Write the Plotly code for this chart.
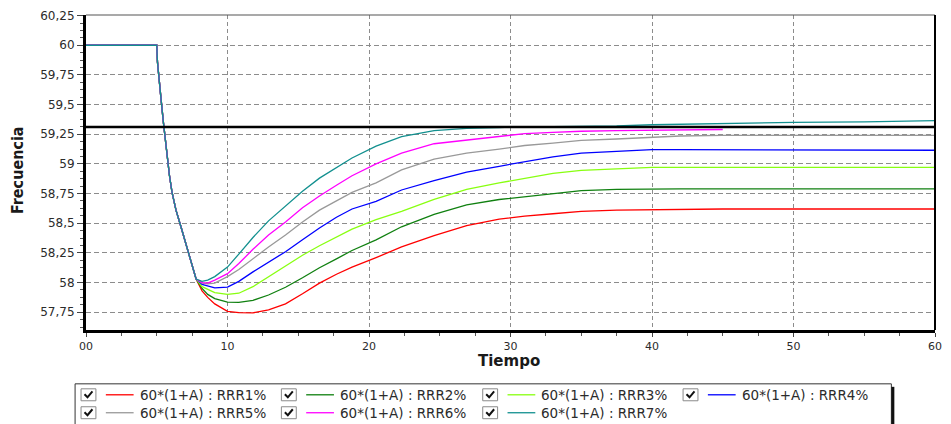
import plotly.graph_objects as go

# Time axis of the simulation (s)
time_s = [0, 5.0, 5.05, 5.15, 5.3, 5.47, 5.58, 5.7, 5.82, 5.9, 6.08, 6.36, 6.71,
          7.06, 7.41, 7.64, 7.78,
          8.2, 8.6, 9.1, 10, 10.8, 11.8, 12.9, 14.1, 15.3, 16.5, 17.7, 18.8,
          20.5, 22.3, 24.6, 26.9, 29.2, 31, 33, 35, 37.5, 40, 42, 45, 50, 55, 60]

# Frequency drop shared by all cases before the responses separate (Hz)
common_drop = [60.0, 60.0, 59.86, 59.72, 59.55, 59.35, 59.22, 59.10, 58.99, 58.90,
               58.76, 58.61, 58.47, 58.33, 58.19, 58.08, 58.03]

# Recovery of each case after the separation point (Hz)
rrr1 = [57.93, 57.875, 57.82, 57.757, 57.746, 57.745, 57.77, 57.82, 57.905, 57.995,
        58.07, 58.13, 58.21, 58.30, 58.395, 58.48, 58.535, 58.56, 58.58, 58.60,
        58.61, 58.615, 58.62, 58.62, 58.62, 58.62, 58.62]
rrr2 = [57.95, 57.90, 57.865, 57.835, 57.832, 57.85, 57.895, 57.96, 58.04, 58.125,
        58.20, 58.27, 58.36, 58.47, 58.575, 58.655, 58.70, 58.725, 58.75, 58.775,
        58.785, 58.79, 58.79, 58.79, 58.79, 58.79, 58.79]
rrr3 = [57.965, 57.94, 57.915, 57.90, 57.91, 57.965, 58.05, 58.14, 58.23, 58.31,
        58.385, 58.45, 58.53, 58.60, 58.70, 58.785, 58.84, 58.875, 58.92, 58.945,
        58.96, 58.97, 58.97, 58.97, 58.97, 58.97, 58.97]
rrr4 = [57.985, 57.97, 57.955, 57.962, 58.01, 58.09, 58.17, 58.26, 58.36, 58.46,
        58.55, 58.62, 58.685, 58.78, 58.86, 58.93, 58.98, 59.02, 59.06, 59.09,
        59.105, 59.12, 59.12, 59.12, 59.12, 59.115, 59.115]
rrr5 = [57.995, 57.99, 57.995, 58.05, 58.11, 58.20, 58.30, 58.40, 58.51, 58.61,
        58.69, 58.76, 58.84, 58.95, 59.04, 59.09, 59.125, 59.155, 59.175, 59.198,
        59.21, 59.225, 59.235, 59.24, 59.24, 59.24, 59.24]
rrr6 = [58.0, 57.995, 58.02, 58.075, 58.16, 58.28, 58.40, 58.51, 58.63, 58.73,
        58.82, 58.90, 59.0, 59.09, 59.17, 59.20, 59.23, 59.255, 59.265, 59.275,
        59.28, 59.285, 59.29, 59.29, None, None, None]
rrr7 = [58.01, 58.02, 58.05, 58.13, 58.24, 58.38, 58.52, 58.645, 58.77, 58.88,
        58.97, 59.05, 59.15, 59.23, 59.28, 59.30, 59.305, 59.315, 59.315, 59.315,
        59.32, 59.33, 59.335, 59.34, 59.35, 59.355, 59.365]

series_names = ["60*(1+A) : RRR1%", "60*(1+A) : RRR2%", "60*(1+A) : RRR3%",
                "60*(1+A) : RRR4%", "60*(1+A) : RRR5%", "60*(1+A) : RRR6%",
                "60*(1+A) : RRR7%"]
series_values = [rrr1, rrr2, rrr3, rrr4, rrr5, rrr6, rrr7]
series_colors = ["#ff0000", "#108010", "#88ff10", "#0000ff", "#999999",
                 "#ff00ff", "#12908f"]

# Threshold frequency (Hz)
threshold_hz = 59.31

y_tick_vals = [57.75, 58.0, 58.25, 58.5, 58.75, 59.0, 59.25, 59.5, 59.75, 60.0, 60.25]
y_tick_text = ["57,75", "58", "58,25", "58,5", "58,75", "59", "59,25", "59,5",
               "59,75", "60", "60,25"]
x_tick_vals = [0, 10, 20, 30, 40, 50, 60]
x_tick_text = ["00", "10", "20", "30", "40", "50", "60"]

W, H = 951, 424
ML, MR, MT, MB = 86, 9, 14, 94
PW, PH = W - ML - MR, H - MT - MB


def px_x(px):
    return (px - ML) / PW


def px_y(py):
    return (H - MB - py) / PH


fig = go.Figure()
for name, vals, col in zip(series_names, series_values, series_colors):
    fig.add_trace(go.Scatter(
        x=time_s, y=common_drop + vals, mode="lines", name=name,
        line=dict(color=col, width=1.3),
        connectgaps=False, showlegend=False,
    ))

tick_font = dict(family="DejaVu Sans, Arial, sans-serif", size=12, color="#2b2b2b")
x_tick_font = dict(family="DejaVu Sans, Arial, sans-serif", size=11, color="#2b2b2b")

fig.update_xaxes(
    range=[0, 60], tickmode="array", tickvals=x_tick_vals, ticktext=x_tick_text,
    ticks="outside", ticklen=4, tickcolor="#444", tickfont=x_tick_font,
    showline=True, linecolor="black", linewidth=2.5,
    showgrid=True, gridcolor="#8c8c8c", gridwidth=1, griddash="4px,3px",
    zeroline=False,
    minor=dict(tickmode="linear", tick0=0, dtick=2.5, ticks="outside",
               ticklen=3, tickcolor="#555", showgrid=False),
)
fig.update_yaxes(
    range=[57.60, 60.255], tickmode="array", tickvals=y_tick_vals, ticktext=y_tick_text,
    ticks="outside", ticklen=6, tickcolor="#444", tickfont=tick_font,
    showline=True, linecolor="black", linewidth=3,
    showgrid=True, gridcolor="#8c8c8c", gridwidth=1, griddash="5px,3px",
    zeroline=False,
    minor=dict(tickmode="linear", tick0=57.75, dtick=0.0625, ticks="outside",
               ticklen=3, tickcolor="#555", showgrid=False),
)

shapes = [
    # threshold line
    dict(type="line", xref="paper", yref="y", x0=0, x1=1,
         y0=threshold_hz, y1=threshold_hz, line=dict(color="black", width=2.5)),
    # frame: top and right edges
    dict(type="line", xref="paper", yref="paper", x0=0, x1=1, y0=1, y1=1,
         line=dict(color="#555", width=1.2)),
    dict(type="line", xref="paper", yref="paper", x0=1, x1=1, y0=0, y1=1,
         line=dict(color="black", width=2)),
]

annotations = [
    dict(text="<b>Tiempo</b>", xref="paper", yref="paper", x=px_x(512), y=px_y(361),
         showarrow=False, xanchor="center", yanchor="middle",
         font=dict(family="DejaVu Sans, Arial, sans-serif", size=15, color="#1a1a1a")),
    dict(text="<b>Frecuencia</b>", xref="paper", yref="paper", x=px_x(17), y=px_y(170),
         showarrow=False, xanchor="center", yanchor="middle", textangle=-90,
         font=dict(family="Liberation Sans Narrow, DejaVu Sans Condensed, Arial Narrow, sans-serif",
                   size=16, color="#1a1a1a")),
]

# Legend panel with check boxes
box_l, box_t, box_r, box_b = 75, 384, 898, 440
shapes.append(dict(type="rect", xref="paper", yref="paper",
                   x0=px_x(box_l), x1=px_x(box_r), y0=px_y(box_b), y1=px_y(box_t),
                   line=dict(color="#333", width=1), fillcolor="white", layer="below"))
shapes.append(dict(type="line", xref="paper", yref="paper",
                   x0=px_x(899.5), x1=px_x(899.5), y0=px_y(box_b), y1=px_y(387),
                   line=dict(color="#111", width=3)))

col_left = [81, 283, 486, 688]
row_mid = [395, 413]
for i, (name, col) in enumerate(zip(series_names, series_colors)):
    r, c = divmod(i, 4)
    cx, cy = col_left[c], row_mid[r]
    # check box
    shapes.append(dict(type="rect", xref="paper", yref="paper",
                       x0=px_x(cx), x1=px_x(cx + 15), y0=px_y(cy + 6), y1=px_y(cy - 6),
                       line=dict(color="#8a8a8a", width=1), fillcolor="white"))
    shapes.append(dict(type="path", xref="paper", yref="paper",
                       path=(f"M {px_x(cx + 3.5)} {px_y(cy - 0.5)} "
                             f"L {px_x(cx + 6.5)} {px_y(cy + 2.5)} "
                             f"L {px_x(cx + 11.5)} {px_y(cy - 3.5)}"),
                       line=dict(color="#111", width=2)))
    # series swatch
    shapes.append(dict(type="line", xref="paper", yref="paper",
                       x0=px_x(cx + 25), x1=px_x(cx + 53), y0=px_y(cy), y1=px_y(cy),
                       line=dict(color=col, width=1.3)))
    annotations.append(dict(text=name, xref="paper", yref="paper",
                            x=px_x(cx + 57), y=px_y(cy), showarrow=False,
                            xanchor="left", yanchor="middle",
                            font=dict(family="DejaVu Sans, Arial, sans-serif",
                                      size=13.5, color="#2b2b2b")))

fig.update_layout(
    width=W, height=H, margin=dict(l=ML, r=MR, t=MT, b=MB),
    plot_bgcolor="white", paper_bgcolor="white", showlegend=False,
    shapes=shapes, annotations=annotations,
)

fig.write_html("out.html")
